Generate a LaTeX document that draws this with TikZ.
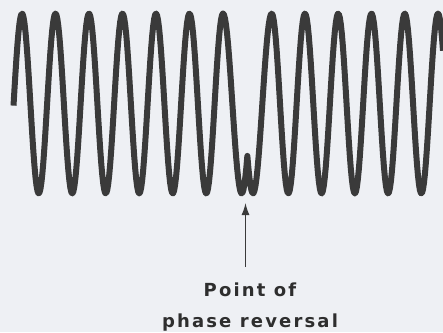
\documentclass[tikz,border=0pt]{standalone}
\usepackage{fontspec}
\usetikzlibrary{arrows.meta}
\newfontfamily\lblfont[LetterSpace=12]{DejaVu Sans}
\definecolor{bg}{HTML}{EEF0F4}
\definecolor{ink}{HTML}{3A3A3A}
\definecolor{txt}{HTML}{2E2E2E}
\tikzset{
  wave/.style={draw=ink, line width=6pt, line join=round},
  revlabel/.style={font=\lblfont\bfseries\fontsize{18}{31}\selectfont, text=txt, align=center, inner sep=0pt},
  rarr/.style={-{Latex[length=12pt,width=8pt]}, draw=ink, line width=1.3pt},
}
\begin{document}
\begin{tikzpicture}[x=1pt,y=-1pt]
  \fill[bg] (0,0) rectangle (443,332);
  \useasboundingbox (0,0) rectangle (443,332);
  \draw[wave] plot[domain=13.5:223, samples=211] (\x,{103.5-90*cos(360*((\x-22)/33.5))})
    -- plot[domain=223:247.35, samples=25] (\x,{103.5-90*cos(180*((\x-223)/18.7))})
    -- plot[domain=247.35:271.7, samples=25] (\x,{103.5-90*cos(180*((271.7-\x)/18.7))})
    -- plot[domain=271.7:443, samples=172] (\x,{103.5-90*cos(360*((\x-271.7)/33.26))});
  \coordinate (rev) at (245.5,203);
  \node[revlabel, anchor=base] (lbl) at (250,327) {Point of\\phase reversal};
  \draw[rarr, shorten <=15pt] (rev |- lbl.north) -- (rev);
\end{tikzpicture}
\end{document}
